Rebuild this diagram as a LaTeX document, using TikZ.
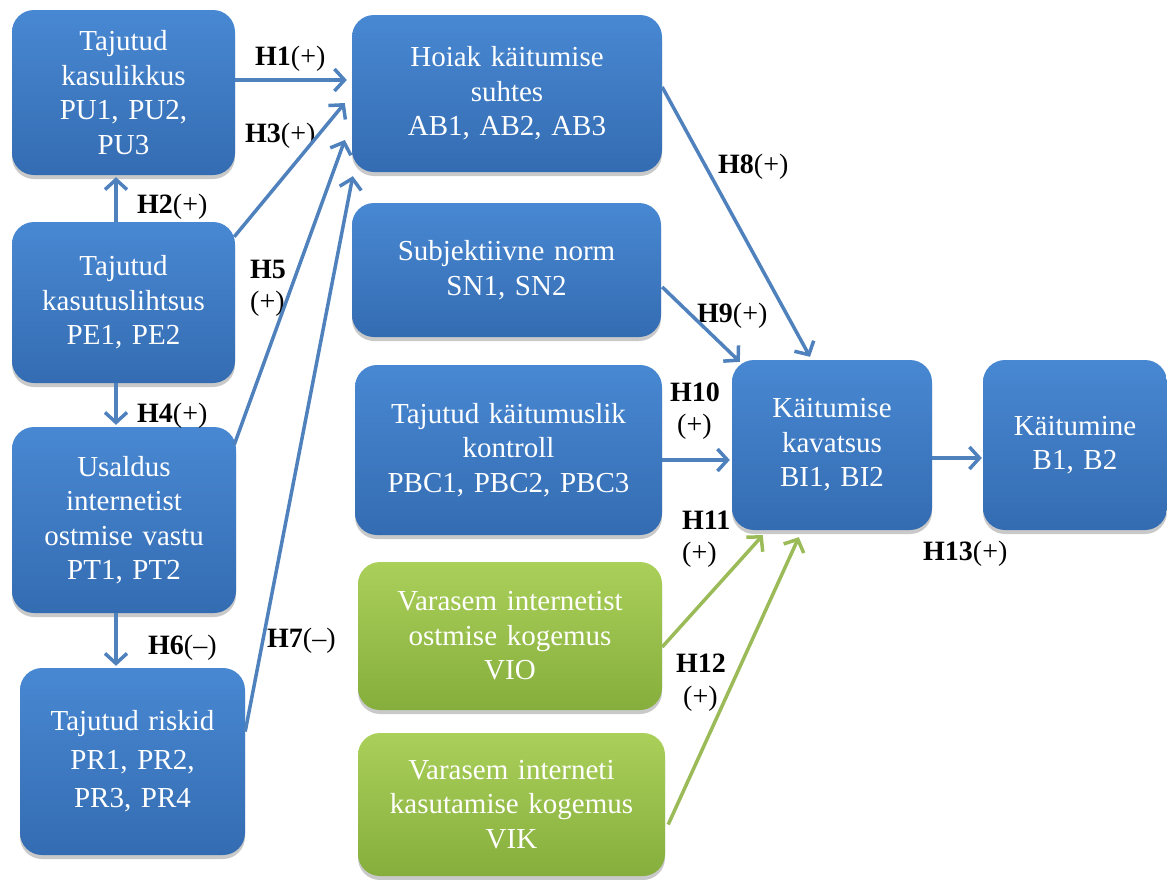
\documentclass[tikz,border=0pt]{standalone}
\usepackage{fontspec}
\setmainfont{Liberation Serif}
\usetikzlibrary{arrows.meta,calc,shadows}

\definecolor{boxtop}{RGB}{72,136,210}
\definecolor{boxbot}{RGB}{52,108,178}
\definecolor{grntop}{RGB}{170,208,90}
\definecolor{grnbot}{RGB}{134,174,60}
\definecolor{linkblue}{RGB}{79,129,189}
\definecolor{linkgreen}{RGB}{155,187,89}

\tikzset{
  box/.style={rounded corners=22pt, inner sep=0pt, align=center, text=white,
    font=\fontsize{29}{34.5}\selectfont,
    drop shadow={shadow xshift=0pt, shadow yshift=-4pt, opacity=0.3, fill=black!70}},
  bluebox/.style={box, top color=boxtop, bottom color=boxbot},
  greenbox/.style={box, top color=grntop, bottom color=grnbot},
  link/.style={draw=linkblue, line width=3.5pt,
    -{Straight Barb[length=10pt,width=22pt]}},
  greenlink/.style={link, draw=linkgreen},
  lbl/.style={anchor=base west, inner sep=0pt, font=\fontsize{28}{30}\selectfont}
}

\begin{document}
\begin{tikzpicture}[x=1pt,y=-1pt]
\useasboundingbox (0,0) rectangle (1167,879);

% constructs
\node[bluebox, text width=223pt, minimum height=165pt] (pu) at (123.5,92.5)
  {Tajutud\\kasulikkus\\PU1, PU2,\\PU3};
\node[bluebox, text width=223pt, minimum height=161pt] (pe) at (123.5,302.5)
  {Tajutud\\kasutuslihtsus\\PE1, PE2};
\node[bluebox, text width=224pt, minimum height=186pt] (pt) at (124,520)
  {Usaldus\\internetist\\ostmise vastu\\PT1, PT2};
\node[bluebox, text width=225pt, minimum height=187pt,
      font=\fontsize{29}{38.5}\selectfont] (pr) at (132.5,761.5)
  {Tajutud riskid\\PR1, PR2,\\PR3, PR4};
\node[bluebox, text width=310pt, minimum height=157pt] (ab) at (507,93.5)
  {Hoiak käitumise\\suhtes\\AB1, AB2, AB3};
\node[bluebox, text width=309pt, minimum height=134pt] (sn) at (506.5,270)
  {Subjektiivne norm\\SN1, SN2};
\node[bluebox, text width=307pt, minimum height=170pt] (pbc) at (508.5,450)
  {Tajutud käitumuslik\\kontroll\\PBC1, PBC2, PBC3};
\node[greenbox, text width=304pt, minimum height=148pt] (vio) at (510,636)
  {Varasem internetist\\ostmise kogemus\\VIO};
\node[greenbox, text width=307pt, minimum height=143pt] (vik) at (511.5,804.5)
  {Varasem interneti\\kasutamise kogemus\\VIK};
\node[bluebox, text width=200pt, minimum height=170pt] (bi) at (832,445)
  {Käitumise\\kavatsus\\BI1, BI2};
\node[bluebox, text width=184pt, minimum height=170pt] (b) at (1075,445)
  {Käitumine\\B1, B2};

% hypothesis labels
\node[lbl] (l1) at (255,65) {\textbf{H1}(+)};
\node[lbl] (l3) at (245,142) {\textbf{H3}(+)};
\node[lbl] (l2) at (137,213) {\textbf{H2}(+)};
\node[lbl] (l5a) at (250,278) {\textbf{H5}};
\node[lbl] (l5b) at (250,310) {(+)};
\node[lbl] (l4) at (137,422) {\textbf{H4}(+)};
\node[lbl] (l6) at (148,654) {\textbf{H6}(–)};
\node[lbl] (l7) at (267,647) {\textbf{H7}(–)};
\node[lbl] (l8) at (718,173) {\textbf{H8}(+)};
\node[lbl] (l9) at (697,322) {\textbf{H9}(+)};
\node[lbl] (l10a) at (670,401) {\textbf{H10}};
\node[lbl] (l10b) at (677,433) {(+)};
\node[lbl] (l11a) at (682,529) {\textbf{H11}};
\node[lbl] (l11b) at (682,561) {(+)};
\node[lbl] (l12a) at (676,672) {\textbf{H12}};
\node[lbl] (l12b) at (683,705) {(+)};
\node[lbl] (l13) at (923,560) {\textbf{H13}(+)};

% paths
\draw[link] ($(pu.east)+(0,-12.5)$) -- ($(ab.west)+(-5,-13.5)$);
\draw[link] ($(pe.north east)+(-1,15)$) -- ($(ab.west)+(-7,9.5)$);
\draw[link] ($(pt.north east)+(-2,18)$) -- ($(ab.west)+(-7,46.5)$);
\draw[link] ($(pr.east)+(0,-30)$) -- ($(ab.south west)+(1,4)$);
\draw[link] ($(pe.north)+(-7.5,0)$) -- ($(pu.south)+(-7.5,2)$);
\draw[link] ($(pe.south)+(-7.5,0)$) -- ($(pt.north)+(-8,-2)$);
\draw[link] ($(pt.south)+(-8,0)$) -- ($(pr.north)+(-16.5,-2)$);
\draw[link] ($(ab.east)+(0,-6.5)$) -- ($(bi.north)+(-22,-3)$);
\draw[link] ($(sn.east)+(1,17)$) -- ($(bi.north west)+(8,2)$);
\draw[link] ($(pbc.east)+(0,10)$) -- ($(bi.west)+(-2,15)$);
\draw[greenlink] ($(vio.east)+(0,11)$) -- ($(bi.south west)+(31,5)$);
\draw[greenlink] ($(vik.east)+(3,20)$) -- ($(bi.south west)+(67,7)$);
\draw[link] ($(bi.east)+(0,13)$) -- ($(b.west)+(-1,13)$);
\end{tikzpicture}
\end{document}
